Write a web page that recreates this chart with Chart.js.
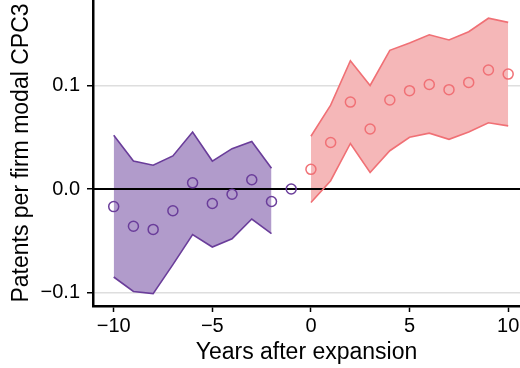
<!DOCTYPE html>
<html>
<head>
<meta charset="utf-8">
<script src="https://cdn.jsdelivr.net/npm/chart.js@4"></script>
<style>
  html, body { margin: 0; padding: 0; background: #fff; }
  #wrap { width: 520px; height: 368px; }
</style>
</head>
<body>
<div id="wrap"><canvas id="chart"></canvas></div>
<script>
// event-time estimates, before and after expansion
const preYears = [-10, -9, -8, -7, -6, -5, -4, -3, -2, -1];
const preEstimate = [-0.017, -0.036, -0.039, -0.021, 0.006, -0.014, -0.005, 0.009, -0.012, 0.0];
const preCiYears = [-10, -9, -8, -7, -6, -5, -4, -3, -2];
const preUpper = [0.052, 0.027, 0.023, 0.032, 0.055, 0.027, 0.039, 0.046, 0.020];
const preLower = [-0.085, -0.099, -0.101, -0.073, -0.044, -0.056, -0.048, -0.029, -0.043];

const postYears = [0, 1, 2, 3, 4, 5, 6, 7, 8, 9, 10];
const postEstimate = [0.019, 0.045, 0.084, 0.058, 0.086, 0.095, 0.101, 0.096, 0.103, 0.115, 0.111];
const postUpper = [0.051, 0.081, 0.124, 0.100, 0.134, 0.141, 0.149, 0.144, 0.152, 0.165, 0.161];
const postLower = [-0.013, 0.008, 0.044, 0.016, 0.037, 0.050, 0.054, 0.048, 0.055, 0.064, 0.061];

const xTicks = [-10, -5, 0, 5, 10];
const yTicks = [-0.1, 0.0, 0.1];

const PURPLE = '#6a3d9a';
const PURPLE_FILL = '#b19bcb';
const RED = '#f07075';
const RED_FILL = '#f5b7b8';
const FONT = "'Liberation Sans', Arial, sans-serif";

const pts = (xs, ys) => xs.map((x, i) => ({ x, y: ys[i] }));
const minus = v => String(v).replace('-', '\u2212');

// black reference line at zero, above the ribbons
const zeroLine = {
  id: 'zeroLine',
  beforeDatasetsDraw(chart) {
    const { ctx, chartArea, scales } = chart;
    const y = scales.y.getPixelForValue(0);
    ctx.save();
    ctx.strokeStyle = '#000';
    ctx.lineWidth = 2;
    ctx.beginPath();
    ctx.moveTo(chartArea.left, y);
    ctx.lineTo(chartArea.right, y);
    ctx.stroke();
    ctx.restore();
  }
};

const pointSet = (data, color) => ({
  data, showLine: false, pointStyle: 'circle', pointRadius: 5,
  pointBorderWidth: 1.5, pointBorderColor: color, pointBackgroundColor: 'rgba(0,0,0,0)'
});
const bandEdge = (data, color, fill, fillColor) => ({
  data, showLine: true, borderColor: color, borderWidth: 1.6, pointRadius: 0,
  tension: 0, fill, backgroundColor: fillColor
});

// panel runs flush to the top and right edges
const noPad = s => { s.paddingTop = 0; s.paddingBottom = 0; s.paddingLeft = 0; s.paddingRight = 0; };

new Chart(document.getElementById('chart'), {
  type: 'scatter',
  data: {
    datasets: [
      pointSet(pts(preYears, preEstimate), PURPLE),
      pointSet(pts(postYears, postEstimate), RED),
      bandEdge(pts(preCiYears, preUpper), PURPLE, '+1', PURPLE_FILL),
      bandEdge(pts(preCiYears, preLower), PURPLE, false),
      bandEdge(pts(postYears, postUpper), RED, '+1', RED_FILL),
      bandEdge(pts(postYears, postLower), RED, false)
    ]
  },
  options: {
    responsive: true,
    maintainAspectRatio: false,
    animation: false,
    layout: { padding: 0, autoPadding: false },
    plugins: {
      legend: { display: false },
      tooltip: { enabled: false },
      filler: { drawTime: 'beforeDatasetsDraw' }
    },
    scales: {
      x: {
        type: 'linear',
        min: -11.05,
        max: 10.6,
        afterFit: s => { s.height = 62; noPad(s); },
        afterBuildTicks: s => { s.ticks = xTicks.map(v => ({ value: v })); },
        border: { color: '#000', width: 2.5 },
        grid: { drawOnChartArea: false, drawTicks: true, tickLength: 6, tickColor: '#000', tickWidth: 1.5 },
        ticks: { color: '#000', padding: 2, font: { family: FONT, size: 20 }, callback: v => minus(v) },
        title: { display: true, text: 'Years after expansion', color: '#000', font: { family: FONT, size: 23 }, padding: { top: 0, bottom: 2 } }
      },
      y: {
        min: -0.113,
        max: 0.1826,
        afterFit: s => { s.width = 93; noPad(s); },
        afterBuildTicks: s => { s.ticks = yTicks.map(v => ({ value: v })); },
        border: { color: '#000', width: 2.5 },
        grid: {
          drawTicks: true, tickLength: 6, tickWidth: 1.5,
          color: c => (c.tick && c.tick.value === 0 ? 'rgba(0,0,0,0)' : '#dedede'),
          tickColor: '#000', lineWidth: 1.5
        },
        ticks: { color: '#000', padding: 7, font: { family: FONT, size: 20 }, callback: v => minus(v.toFixed(1)) },
        title: { display: true, text: 'Patents per firm modal CPC3', color: '#000', font: { family: FONT, size: 23 }, padding: { top: 8, bottom: 0 } }
      }
    }
  },
  plugins: [zeroLine]
});
</script>
</body>
</html>
